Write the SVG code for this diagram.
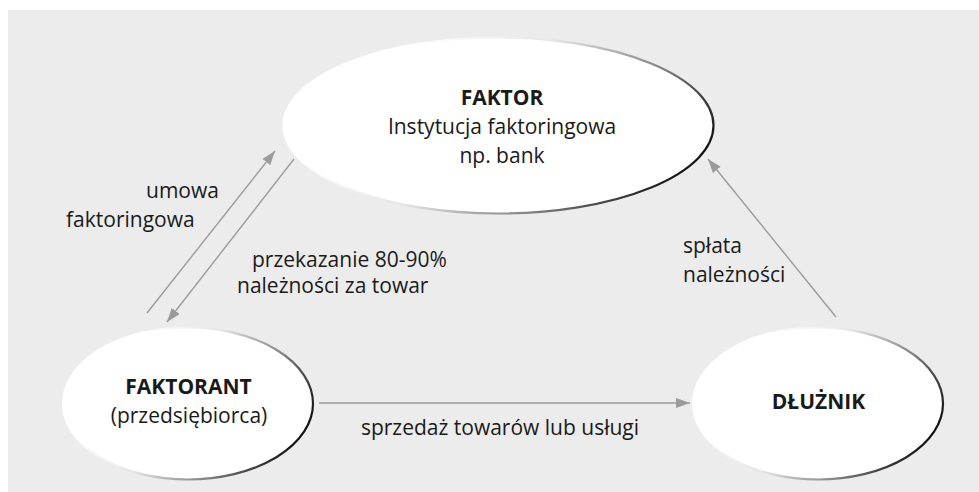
<svg xmlns="http://www.w3.org/2000/svg" width="979" height="492" viewBox="0 0 979 492">
  <style>
    .label { font-family: "Open Sans", "Noto Sans", "DejaVu Sans", sans-serif; font-size: 21px; fill: #1a1a1a; }
    .bold { font-weight: bold; }
    .node { fill: #ffffff; stroke: url(#rim); stroke-width: 2.2; }
    .link { stroke: #9b9b9b; stroke-width: 1.4; fill: none; marker-end: url(#arrow); }
  </style>
  <defs>
    <!-- rim shading: invisible on the left, dark on the right -->
    <linearGradient id="rim" x1="0.2" y1="0.3" x2="1" y2="0.6">
      <stop offset="0" stop-color="#ffffff"/>
      <stop offset="0.35" stop-color="#e6e6e6"/>
      <stop offset="0.7" stop-color="#808080"/>
      <stop offset="1" stop-color="#111111"/>
    </linearGradient>
    <marker id="arrow" viewBox="0 0 14 10" refX="14" refY="5" markerWidth="14" markerHeight="10" markerUnits="userSpaceOnUse" orient="auto">
      <path d="M0,0 L14,5 L0,10 Z" fill="#9b9b9b"/>
    </marker>
  </defs>

  <!-- panel background -->
  <rect x="8" y="10" width="971" height="482" fill="#ececec"/>

  <!-- connectors -->
  <g id="connectors">
    <line class="link" x1="147" y1="313" x2="275" y2="151"/>
    <line class="link" x1="294" y1="159" x2="167" y2="322"/>
    <line class="link" x1="319" y1="403" x2="690" y2="403"/>
    <line class="link" x1="836" y1="317" x2="708" y2="159"/>
    <text class="label" x="146" y="198">umowa</text>
    <text class="label" x="66" y="227">faktoringowa</text>
    <text class="label" x="252" y="267">przekazanie 80-90%</text>
    <text class="label" x="237" y="293">należności za towar</text>
    <text class="label" x="683" y="253">spłata</text>
    <text class="label" x="683" y="282">należności</text>
    <text class="label" x="500" y="435" text-anchor="middle">sprzedaż towarów lub usługi</text>
  </g>

  <!-- nodes -->
  <g id="faktor">
    <ellipse class="node" cx="498.5" cy="125.5" rx="215" ry="88"/>
    <text class="label bold" x="502" y="105" text-anchor="middle">FAKTOR</text>
    <text class="label" x="502" y="134" text-anchor="middle">Instytucja faktoringowa</text>
    <text class="label" x="502" y="163" text-anchor="middle">np. bank</text>
  </g>
  <g id="faktorant">
    <ellipse class="node" cx="188" cy="403.5" rx="125" ry="76"/>
    <text class="label bold" x="188.5" y="394" text-anchor="middle">FAKTORANT</text>
    <text class="label" x="189" y="423" text-anchor="middle">(przedsiębiorca)</text>
  </g>
  <g id="dluznik">
    <ellipse class="node" cx="818" cy="403.5" rx="125" ry="76"/>
    <text class="label bold" x="818.5" y="409" text-anchor="middle">DŁUŻNIK</text>
  </g>
</svg>
